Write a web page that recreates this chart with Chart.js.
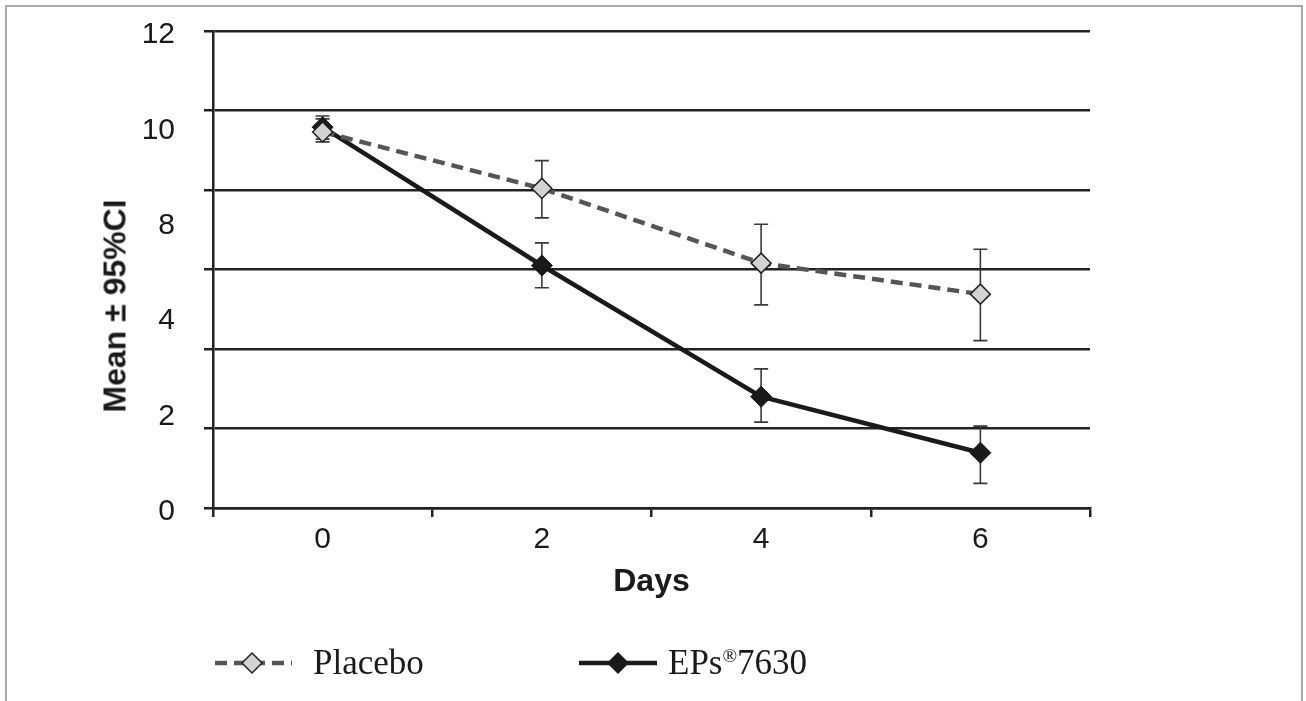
<!DOCTYPE html>
<html>
<head>
<meta charset="utf-8">
<script src="https://cdn.jsdelivr.net/npm/chart.js@4.4.1/dist/chart.umd.min.js"></script>
<style>
  html, body { margin: 0; padding: 0; background: #fff; }
  body { width: 1306px; height: 701px; overflow: hidden; position: relative; }
  #frame { position: absolute; left: 5px; top: 5px; width: 1294px; height: 740px; border: 2px solid #aaa; }
  #wrap { position: absolute; left: 0; top: 0; width: 1306px; height: 701px; }
  #ytitle { position: absolute; left: 115px; top: 306px; transform: translate(-50%, -50%) rotate(-90deg);
            font: bold 32px "Liberation Sans", Arial, sans-serif; color: #1a1a1a; white-space: nowrap; }
  .leg { position: absolute; top: 663px; transform: translateY(-50%); font: 35px "Liberation Serif", "Times New Roman", serif; color: #1a1a1a; white-space: nowrap; }
  .leg sup { font-size: 0.55em; vertical-align: 0.65em; }
  .legsym { position: absolute; top: 648px; }
</style>
</head>
<body>
<div id="frame"></div>
<div id="wrap"><canvas id="c" width="1306" height="701"></canvas></div>
<div id="ytitle">Mean ± 95%CI</div>

<svg class="legsym" style="left:212px" width="82" height="30">
  <line x1="3" y1="15" x2="80" y2="15" stroke="#555" stroke-width="4.5" stroke-dasharray="12 7"/>
  <polygon points="40,5 50,15 40,25 30,15" fill="#d3d3d3" stroke="#222" stroke-width="1.5"/>
</svg>
<div class="leg" style="left:313px">Placebo</div>
<svg class="legsym" style="left:577px" width="82" height="30">
  <line x1="2" y1="15" x2="80" y2="15" stroke="#1a1a1a" stroke-width="4.5"/>
  <polygon points="41,4 52,15 41,26 30,15" fill="#1a1a1a"/>
</svg>
<div class="leg" style="left:668px">EPs<sup>®</sup>7630</div>

<script>
// valeurs
const days = ['0', '2', '4', '6'];
const placeboMean = [9.46, 8.04, 6.16, 5.38];
const placeboLow = [9.21, 7.30, 5.11, 4.21];
const placeboHigh = [9.79, 8.74, 7.14, 6.51];
const epsMean = [9.58, 6.10, 2.80, 1.39];
const epsLow = [9.28, 5.54, 2.16, 0.62];
const epsHigh = [9.86, 6.67, 3.50, 2.06];
const yTickLabels = ['12', '10', '8', '4', '2', '0'];

// barres d'erreur (IC 95%)
const errorBars = {
  id: 'errorBars',
  beforeDatasetsDraw(chart) {
    const ctx = chart.ctx;
    const y = chart.scales.y;
    chart.data.datasets.forEach((ds, di) => {
      const meta = chart.getDatasetMeta(di);
      ctx.save();
      ctx.strokeStyle = '#3a3a3a';
      ctx.lineWidth = 1.6;
      meta.data.forEach((pt, i) => {
        const top = y.getPixelForValue(ds.errHigh[i]);
        const bot = y.getPixelForValue(ds.errLow[i]);
        ctx.beginPath();
        ctx.moveTo(pt.x, top); ctx.lineTo(pt.x, bot);
        ctx.moveTo(pt.x - 7, top); ctx.lineTo(pt.x + 7, top);
        ctx.moveTo(pt.x - 7, bot); ctx.lineTo(pt.x + 7, bot);
        ctx.stroke();
      });
      ctx.restore();
    });
  }
};

new Chart(document.getElementById('c'), {
  type: 'line',
  data: {
    labels: days,
    datasets: [{
      label: 'Placebo',
      data: placeboMean,
      errLow: placeboLow,
      errHigh: placeboHigh,
      borderColor: '#555',
      borderWidth: 4.5,
      borderDash: [12, 7],
      pointStyle: 'rectRot',
      pointRadius: 10,
      pointBackgroundColor: '#d3d3d3',
      pointBorderColor: '#222',
      pointBorderWidth: 1.5,
      tension: 0
    }, {
      label: 'EPs®7630',
      data: epsMean,
      errLow: epsLow,
      errHigh: epsHigh,
      borderColor: '#1a1a1a',
      borderWidth: 4.5,
      pointStyle: 'rectRot',
      pointRadius: 10.5,
      pointBackgroundColor: '#1a1a1a',
      pointBorderColor: '#1a1a1a',
      pointBorderWidth: 1,
      tension: 0
    }]
  },
  options: {
    responsive: false,
    animation: false,
    events: [],
    layout: { padding: { left: 0, right: 216, top: 31, bottom: 93 } },
    plugins: { legend: { display: false }, tooltip: { enabled: false } },
    scales: {
      x: {
        type: 'category',
        offset: true,
        grid: { offset: true, drawOnChartArea: false, color: '#222', lineWidth: 2.5, tickLength: 9 },
        border: { color: '#222', width: 2.5 },
        ticks: { color: '#1a1a1a', padding: 5, font: { family: '"Liberation Sans", Arial, sans-serif', size: 30 } },
        title: { display: true, text: 'Days', color: '#1a1a1a', padding: { top: 0, bottom: 7 },
                 font: { family: '"Liberation Sans", Arial, sans-serif', size: 32, weight: 'bold' } },
        afterFit(scale) { scale.height = 100; scale.paddingLeft = 0; scale.paddingRight = 0; }
      },
      y: {
        min: 0, max: 12,
        weight: 0,
        ticks: { stepSize: 2, display: false },
        grid: { color: '#222', lineWidth: 2.5, tickLength: 9 },
        border: { color: '#222', width: 2.5 },
        afterFit(scale) { scale.width = 9; scale.paddingTop = 0; scale.paddingBottom = 0; }
      },
      yLab: {
        type: 'category',
        position: 'left',
        weight: 1,
        labels: yTickLabels,
        offset: false,
        grid: { display: false },
        border: { display: false },
        ticks: { color: '#1a1a1a', padding: 21, labelOffset: 4, autoSkip: false,
                 font: { family: '"Liberation Sans", Arial, sans-serif', size: 30 } },
        afterFit(scale) { scale.width = 204; scale.paddingTop = 0; scale.paddingBottom = 0; }
      }
    }
  },
  plugins: [errorBars]
});
</script>
</body>
</html>
